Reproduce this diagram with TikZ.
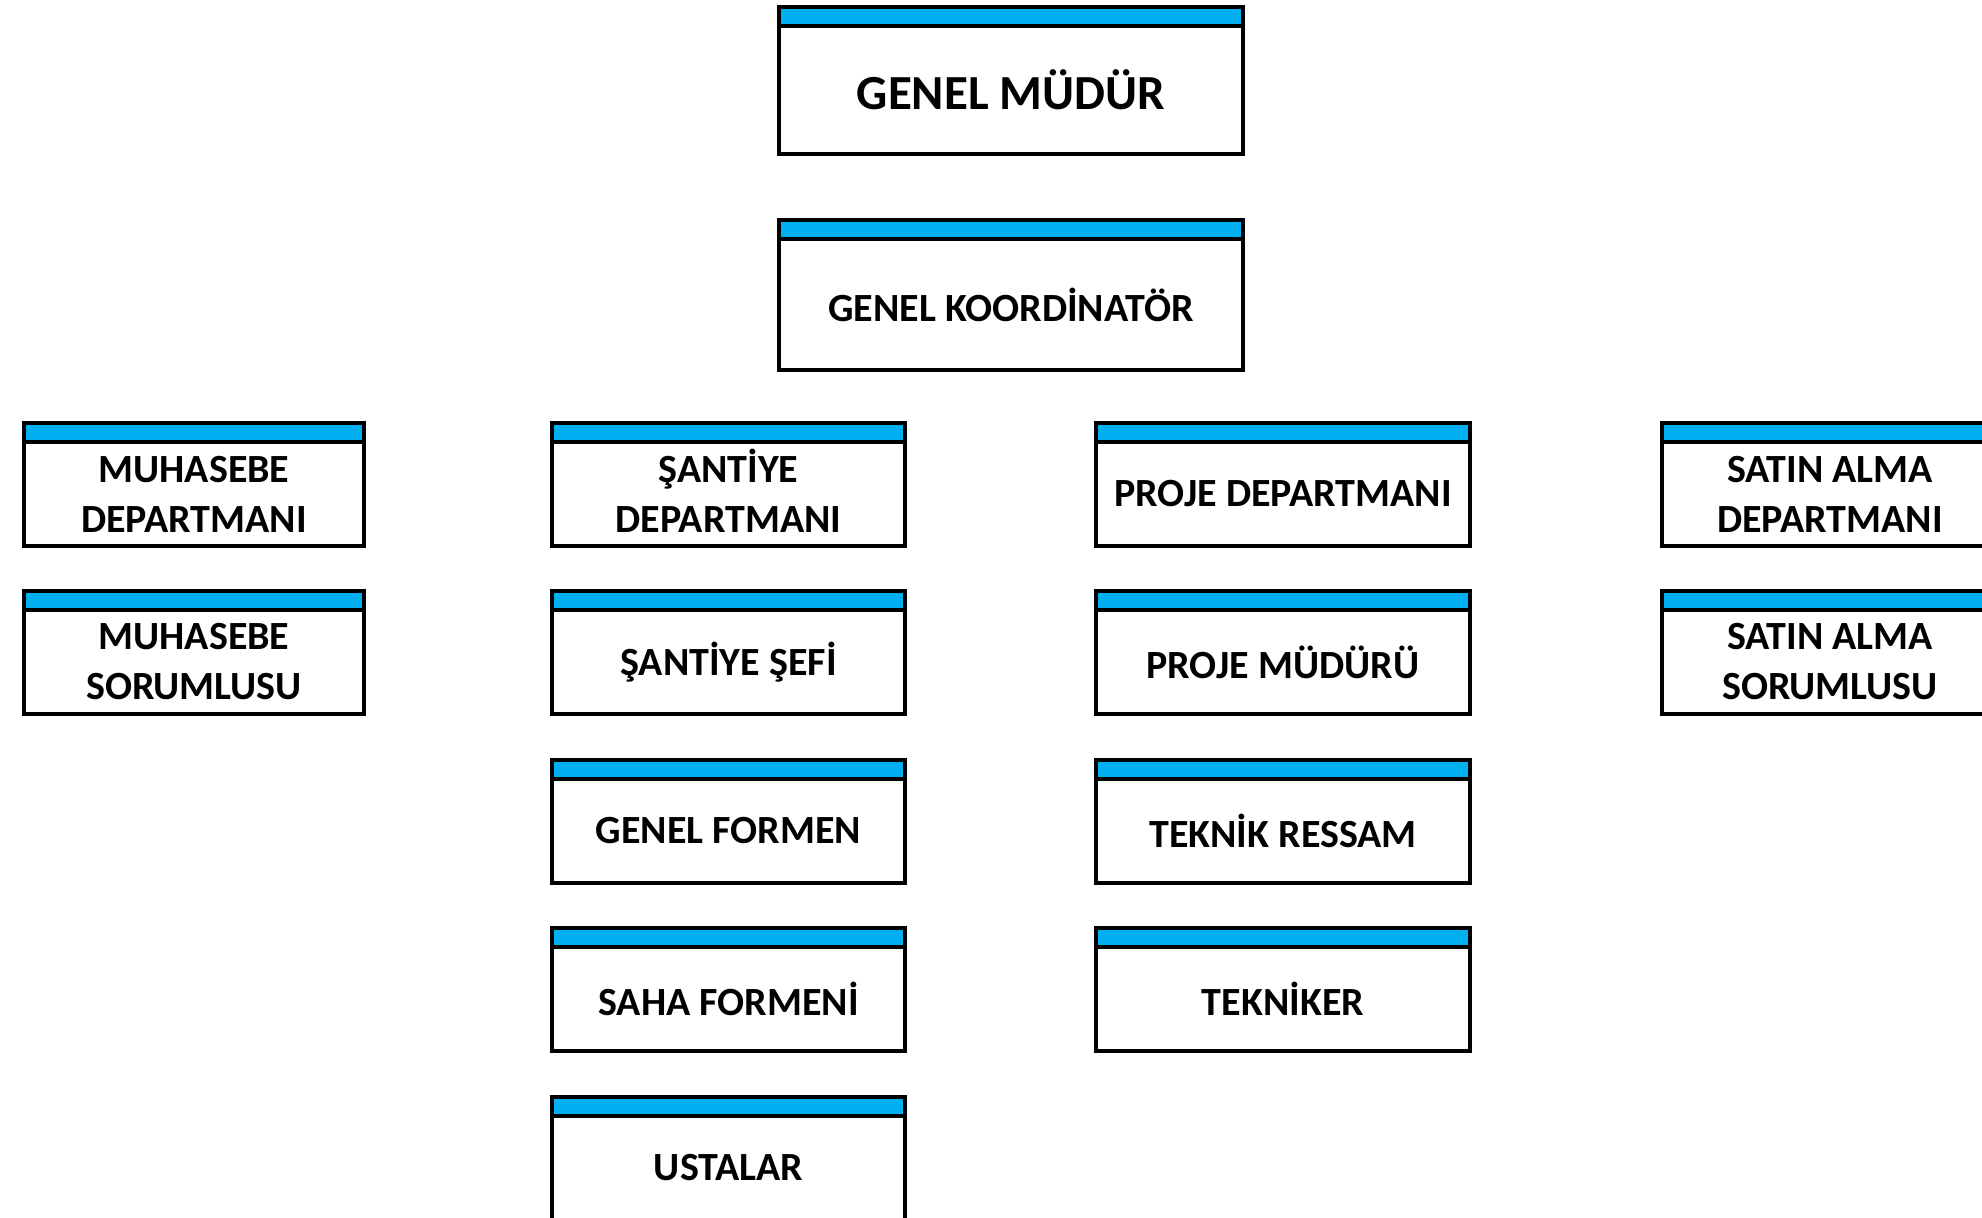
\documentclass[tikz,border=0pt]{standalone}
\usepackage{fontspec}
\setmainfont{Carlito}
\definecolor{bantmavi}{HTML}{00B0F0}
\tikzset{
  bant/.style={draw,fill=bantmavi,line width=2pt,inner sep=0pt,outer sep=0pt,minimum height=9.5pt,minimum width=#1},
  kutu/.style={draw,line width=2pt,inner sep=0pt,outer sep=0pt,minimum width=#1,minimum height=51.75pt,
    align=center,font=\bfseries\fontsize{20}{25}\selectfont,label={[bant=#1]north:{}}},
}

\begin{document}
\begin{tikzpicture}[x=0.5pt,y=-0.5pt]
\useasboundingbox (0,0) rectangle (1982,1217);
\clip (0,0) rectangle (1982,1217);
% ust kademe
\node[kutu=232pt,minimum height=64.25pt,font=\bfseries\fontsize{24.5}{29}\selectfont] (mudur) at (1011,90) {GENEL MÜDÜR};
\node[kutu=232pt,minimum height=65.5pt] (koordinator) at (1011,304.5) {GENEL KOORDİNATÖR};
% muhasebe
\node[kutu=170pt] (muhasebe) at (194,494) {MUHASEBE\\DEPARTMANI};
\node[kutu=170pt] (muhsorumlu) at (194,662) {MUHASEBE\\SORUMLUSU};
% santiye
\node[kutu=176.5pt] (santiye) at (728.5,494) {ŞANT\smash{İ}YE\\DEPARTMANI};
\node[kutu=176.5pt] (sef) at (728.5,662) {ŞANTİYE ŞEFİ};
\node[kutu=176.5pt] (formen) at (728.5,831) {GENEL FORMEN};
\node[kutu=176.5pt] (sahaformen) at (728.5,999) {SAHA FORMENİ};
\node[kutu=176.5pt] (ustalar) at (728.5,1168) {USTALAR};
% proje
\node[kutu=187pt] (proje) at (1283,494) {PROJE DEPARTMANI};
\node[kutu=187pt] (projemudur) at (1283,662) {PROJE MÜDÜRÜ};
\node[kutu=187pt] (ressam) at (1283,831) {TEKNİK RESSAM};
\node[kutu=187pt] (tekniker) at (1283,999) {TEKNİKER};
% satin alma
\node[kutu=168pt] (satinalma) at (1830,494) {SATIN ALMA\\DEPARTMANI};
\node[kutu=168pt] (satsorumlu) at (1830,662) {SATIN ALMA\\SORUMLUSU};
\end{tikzpicture}
\end{document}
